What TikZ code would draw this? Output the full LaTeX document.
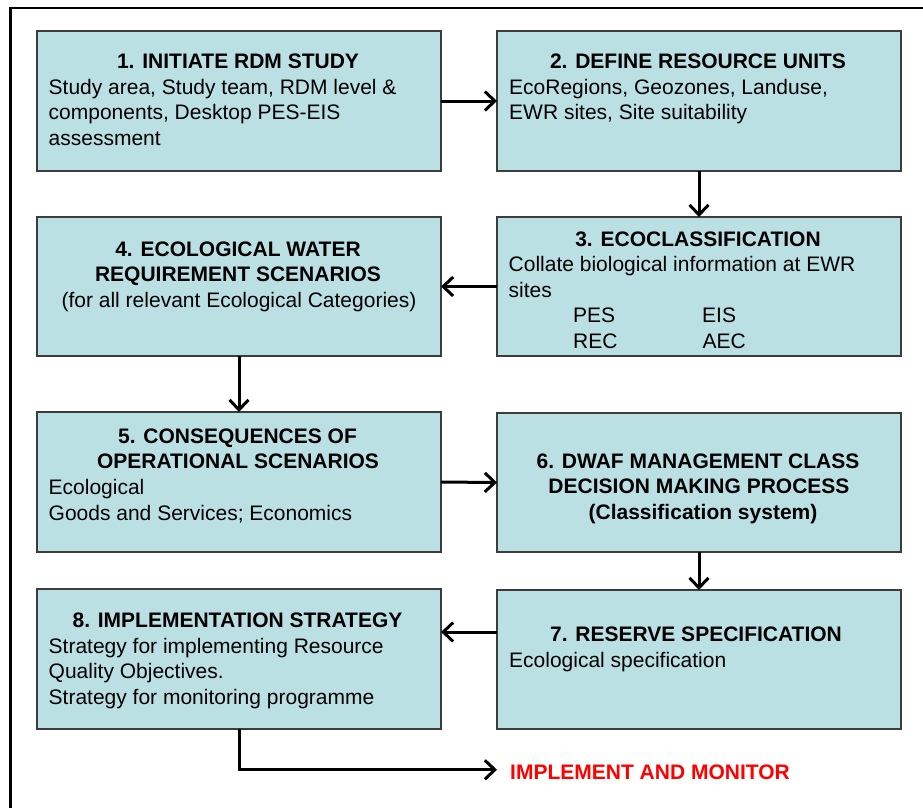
\documentclass[tikz,border=0pt]{standalone}
\usepackage{fontspec}
\setmainfont{Liberation Sans}
\usetikzlibrary{arrows.meta}
\definecolor{boxfill}{RGB}{187,224,228}
\definecolor{boxline}{RGB}{60,60,60}
\definecolor{implred}{RGB}{255,0,0}
\begin{document}
\begin{tikzpicture}[x=1pt,y=-1pt,
  box/.style={draw=boxline, line width=1.2pt, fill=boxfill, rectangle, inner sep=0pt, outer sep=0pt, minimum width=404pt},
  head/.style={font=\fontsize{21}{25.5}\selectfont\bfseries, inner sep=0pt, anchor=base},
  body/.style={font=\fontsize{21}{25.5}\selectfont, inner sep=0pt, anchor=base west},
  bodyc/.style={font=\fontsize{21}{25.5}\selectfont, inner sep=0pt, anchor=base},
  arr/.style={line width=3pt, -{Straight Barb[length=10pt,width=19pt]}}]

\useasboundingbox (0,0) rectangle (923,807);
\fill[white] (0,0) rectangle (923,807);
\draw[line width=2.5pt] (10.5,830) -- (10.5,7.8) -- (940,7.8);

% boxes
\node[box, minimum height=140pt] (b1) at (239,101) {};
\node[box, minimum height=140pt] (b2) at (699,101) {};
\node[box, minimum height=139pt] (b3) at (699,286.5) {};
\node[box, minimum height=139pt] (b4) at (239,286.5) {};
\node[box, minimum height=140pt] (b5) at (239,482) {};
\node[box, minimum height=139pt] (b6) at (699,482.5) {};
\node[box, minimum height=139pt] (b7) at (699,659.5) {};
\node[box, minimum height=140pt] (b8) at (239,659) {};

% box 1
\node[head] (h1) at (238,68) {1. INITIATE RDM STUDY};
\node[body] (t1a) at (48.5,94) {Study area, Study team, RDM level \&};
\node[body] (t1b) at (48.5,119.5) {components, Desktop PES-EIS};
\node[body] (t1c) at (48.5,145) {assessment};

% box 2
\node[head] (h2) at (698,68) {2. DEFINE RESOURCE UNITS};
\node[body] (t2a) at (509,94) {EcoRegions, Geozones, Landuse,};
\node[body] (t2b) at (509,119.5) {EWR sites, Site suitability};

% box 3
\node[head] (h3) at (698,246) {3. ECOCLASSIFICATION};
\node[body] (t3a) at (508.5,271.5) {Collate biological information at EWR};
\node[body] (t3b) at (508.5,297) {sites};
\node[body] (t3c) at (573,322.5) {PES};
\node[body] (t3d) at (702,322.5) {EIS};
\node[body] (t3e) at (573,348) {REC};
\node[body] (t3f) at (702.5,348) {AEC};

% box 4
\node[head] (h4a) at (238,256) {4. ECOLOGICAL WATER};
\node[head] (h4b) at (238,281.5) {REQUIREMENT SCENARIOS};
\node[bodyc] (t4a) at (239,307) {(for all relevant Ecological Categories)};

% box 5
\node[head] (h5a) at (237.5,443) {5. CONSEQUENCES OF};
\node[head] (h5b) at (238,468.5) {OPERATIONAL SCENARIOS};
\node[body] (t5a) at (48.5,494.5) {Ecological};
\node[body] (t5b) at (48.5,520) {Goods and Services; Economics};

% box 6
\node[head] (h6a) at (698,468) {6. DWAF MANAGEMENT CLASS};
\node[head] (h6b) at (699,493.5) {DECISION MAKING PROCESS};
\node[head] (h6c) at (703,519) {(Classification system)};

% box 7
\node[head] (h7) at (696,641.5) {7. RESERVE SPECIFICATION};
\node[body] (t7a) at (509,667) {Ecological specification};

% box 8
\node[head] (h8) at (237.5,627.5) {8. IMPLEMENTATION STRATEGY};
\node[body] (t8a) at (48.5,653) {Strategy for implementing Resource};
\node[body] (t8b) at (48.5,678.5) {Quality Objectives.};
\node[body] (t8c) at (48.5,704) {Strategy for monitoring programme};

% final label
\node[head, anchor=base west, text=implred] (impl) at (510,779) {IMPLEMENT AND MONITOR};

% connectors
\draw[arr] (b1.east) -- (b2.west);
\draw[arr] (b2.south) -- (b3.north);
\draw[arr] (b3.west) -- (b4.east);
\draw[arr] (b4.south) -- (b5.north);
\draw[arr] (b5.east) -- (b6.west);
\draw[arr] (b6.south) -- (b7.north);
\draw[arr] (b7.west |- 0,632) -- (b8.east |- 0,632);
\draw[arr] (b8.south) |- ([xshift=-13pt,yshift=2pt]impl.west);
\end{tikzpicture}
\end{document}
